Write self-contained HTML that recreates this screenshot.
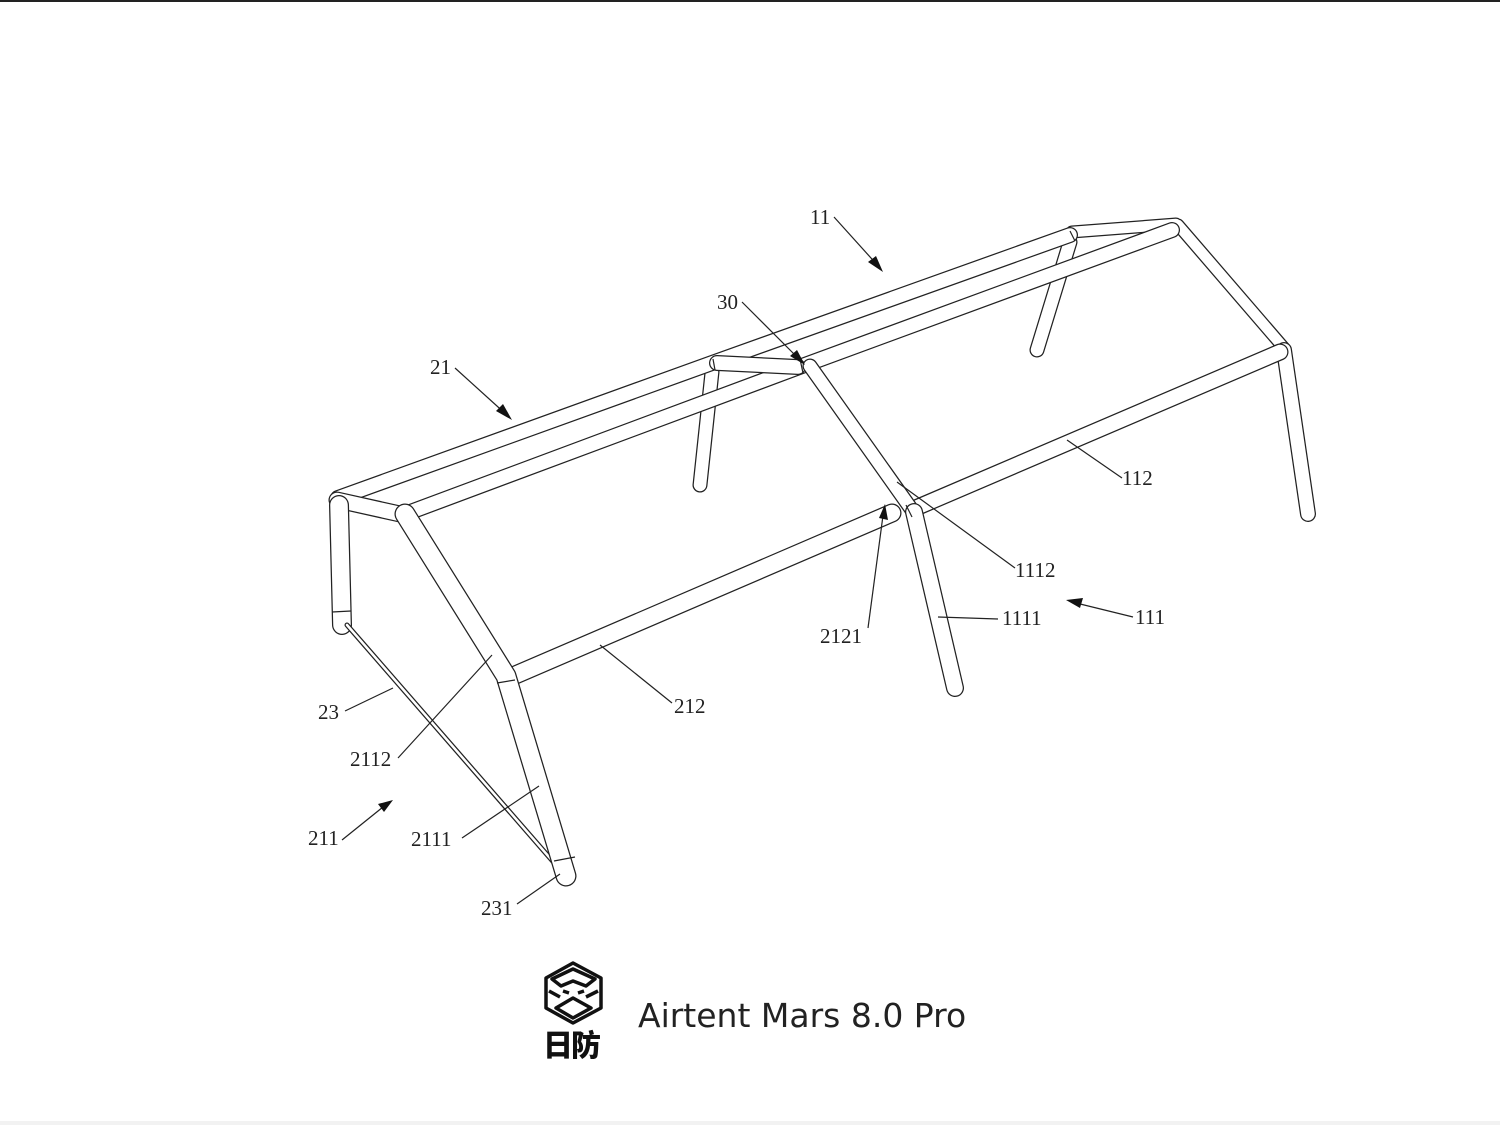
<!DOCTYPE html>
<html><head><meta charset="utf-8"><style>
html,body{margin:0;padding:0;background:#fff;width:1500px;height:1125px;overflow:hidden}
svg{display:block}
.t{font-family:"Liberation Serif",serif;font-size:21px;fill:#222}
.ld{stroke:#222;stroke-width:1.2;fill:none}
</style></head><body>
<svg width="1500" height="1125" viewBox="0 0 1500 1125" xmlns="http://www.w3.org/2000/svg">
<rect x="0" y="0" width="1500" height="2" fill="#222"/>
<rect x="0" y="1121" width="1500" height="4" fill="#f2f2f2"/>
<defs>
<g id="dummy"></g>
</defs>
<g stroke-linecap="round" fill="none">
<!-- back legs -->
<g><path d="M712 372 L700 485 M1070 242 L1037 350" stroke="#222" stroke-width="15"/><path d="M712 372 L700 485 M1070 242 L1037 350" stroke="#fff" stroke-width="12.5"/></g>
<!-- right frame -->
<g><path d="M1178 225 L1284 348 M1072 232 L1176 224" stroke="#222" stroke-width="13"/><path d="M1178 225 L1284 348 M1072 232 L1176 224" stroke="#fff" stroke-width="10.5"/></g>
<g><path d="M1284 350 L1308 514" stroke="#222" stroke-width="16"/><path d="M1284 350 L1308 514" stroke="#fff" stroke-width="13.5"/></g>
<!-- back rail top -->
<g><path d="M338 498 L712 363 L1070 235" stroke="#222" stroke-width="16"/><path d="M338 498 L712 363 L1070 235" stroke="#fff" stroke-width="13.5"/></g>
<!-- front rail top -->
<g><path d="M405 514 L802 366 L1172 230" stroke="#222" stroke-width="16"/><path d="M405 514 L802 366 L1172 230" stroke="#fff" stroke-width="13.5"/></g>
<!-- mid crossbar -->
<g><path d="M717 363 L798 367" stroke="#222" stroke-width="16"/><path d="M717 363 L798 367" stroke="#fff" stroke-width="13.5"/></g>
<!-- left top crossbar -->
<g><path d="M337 500 L400 514" stroke="#222" stroke-width="17"/><path d="M337 500 L400 514" stroke="#fff" stroke-width="14.5"/></g>
<!-- left short leg -->
<g><path d="M339 505 L342 625" stroke="#222" stroke-width="20"/><path d="M339 505 L342 625" stroke="#fff" stroke-width="17.5"/></g>
<!-- rail 112 -->
<g><path d="M918 507 L1280 352" stroke="#222" stroke-width="17"/><path d="M918 507 L1280 352" stroke="#fff" stroke-width="14.5"/></g>
<!-- middle slanted thin -->
<g><path d="M810 366 L912 510" stroke="#222" stroke-width="15"/><path d="M810 366 L912 510" stroke="#fff" stroke-width="12.5"/></g>
<!-- middle leg -->
<g><path d="M914 512 L955 688" stroke="#222" stroke-width="18"/><path d="M914 512 L955 688" stroke="#fff" stroke-width="15.5"/></g>
<!-- rail 212 -->
<g><path d="M513 676 L892 513" stroke="#222" stroke-width="19"/><path d="M513 676 L892 513" stroke="#fff" stroke-width="16.5"/></g>
<!-- strap 23 -->
<path d="M347 625 L556 865" stroke="#222" stroke-width="5"/><path d="M347 625 L556 865" stroke="#fff" stroke-width="2.5"/>
<!-- left slanted leg -->
<g><path d="M405 514 L506 676 L566 876" stroke="#222" stroke-width="21" stroke-linejoin="round"/><path d="M405 514 L506 676 L566 876" stroke="#fff" stroke-width="18.5" stroke-linejoin="round"/></g>
</g>
<!-- joints -->
<g class="ld">
<path d="M332 612 L351 611"/><path d="M554 861 L575 857"/><path d="M497 683 L515 680"/>
<path d="M713 359 L715 370"/><path d="M800 359 L803 373"/><path d="M906 505 L912 517"/>
<path d="M1070 231 L1075 241"/>
</g>
<!-- labels -->
<g class="ld">
<path d="M834 217 L880 268"/><path d="M742 302 L802 362"/><path d="M455 368 L508 416"/>
<path d="M1067 440 L1122 478"/><path d="M897 482 L1015 568"/><path d="M938 617 L998 619"/>
<path d="M1133 617 L1072 602"/><path d="M868 628 L884 508"/><path d="M600 645 L672 703"/>
<path d="M345 711 L393 688"/><path d="M398 758 L492 655"/><path d="M342 840 L388 803"/>
<path d="M462 838 L539 786"/><path d="M517 904 L560 874"/>
</g>
<g fill="#111">
<path d="M883 272 L868 262 L876 256 Z"/><path d="M805 365 L790 356 L797 350 Z"/>
<path d="M512 420 L496 411 L503 404 Z"/><path d="M1066 600 L1083 598 L1080 608 Z"/>
<path d="M885 504 L888 520 L879 518 Z"/><path d="M393 800 L384 812 L378 804 Z"/>
</g>
<g class="t">
<text x="810" y="224">11</text><text x="717" y="309">30</text><text x="430" y="374">21</text>
<text x="1122" y="485">112</text><text x="1015" y="577">1112</text><text x="1002" y="625">1111</text>
<text x="1135" y="624">111</text><text x="820" y="643">2121</text><text x="674" y="713">212</text>
<text x="318" y="719">23</text><text x="350" y="766">2112</text><text x="308" y="845">211</text>
<text x="411" y="846">2111</text><text x="481" y="915">231</text>
</g>
<!-- logo -->
<g stroke="#111" stroke-width="3.5" fill="none" stroke-linejoin="round">
<path d="M573 963 L601 978 L601 1008 L573 1023 L546 1008 L546 978 Z"/>
<path d="M552 979 L573 969 L595 979 L586 986 L573 981 L561 986 Z"/>
<path d="M549 991 L560 997 M598 991 L586 997"/>
<path d="M556 1008 L573 998 L591 1008 L573 1018 Z"/>
<path d="M563 991 L569 993 M584 991 L578 993"/>
</g>
<text x="543" y="1056" font-family="'Noto Sans CJK SC',sans-serif" font-weight="900" font-size="30" fill="#111" letter-spacing="-2">日防</text>
<text x="638" y="1027" font-family="'DejaVu Sans','Liberation Sans',sans-serif" font-size="33" fill="#222">Airtent Mars 8.0 Pro</text>
</svg>
</body></html>
